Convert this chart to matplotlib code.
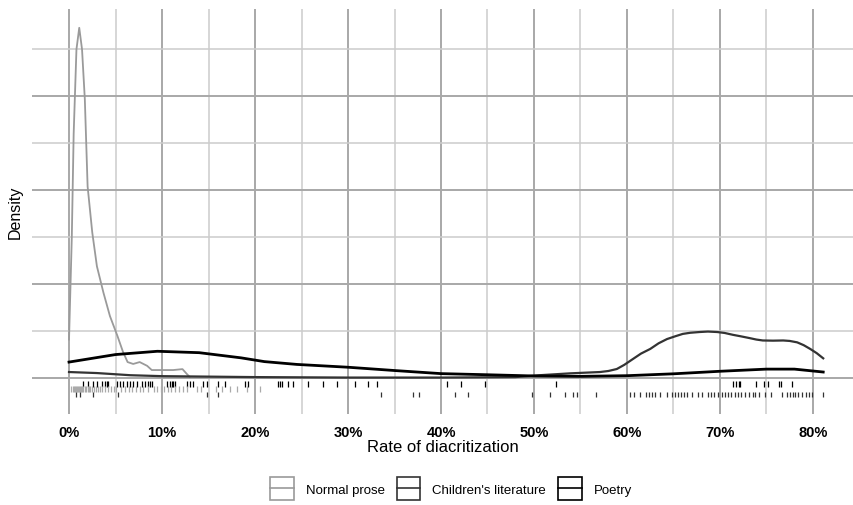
import numpy as np
import matplotlib
matplotlib.use("Agg")
import matplotlib.pyplot as plt
from matplotlib.legend_handler import HandlerBase
from matplotlib.patches import Rectangle
from matplotlib.lines import Line2D

plt.rcParams['font.family'] = ['Liberation Sans', 'DejaVu Sans']

# density curves (x = rate of diacritization, y = density)
prose_x = [0.0, 0.003, 0.005, 0.008, 0.011, 0.014, 0.017, 0.020, 0.025, 0.030,
           0.037, 0.044, 0.052, 0.058, 0.063, 0.069, 0.076, 0.084, 0.089, 0.098,
           0.112, 0.122, 0.127, 0.130]
prose_y = [4.1, 15.0, 26.0, 35.0, 37.3, 35.0, 29.7, 20.4, 15.5, 11.9,
           9.1, 6.6, 4.5, 2.8, 1.7, 1.5, 1.7, 1.3, 0.85, 0.85,
           0.85, 0.95, 0.4, 0.1]

child_x = [0.0, 0.03, 0.066, 0.10, 0.20, 0.30, 0.40, 0.48, 0.506, 0.539,
           0.571, 0.58, 0.589, 0.597, 0.606, 0.615, 0.625, 0.634, 0.643, 0.652,
           0.660, 0.668, 0.678, 0.687, 0.697, 0.705, 0.714, 0.722, 0.732, 0.739,
           0.746, 0.757, 0.768, 0.775, 0.783, 0.790, 0.797, 0.804, 0.811]
child_y = [0.64, 0.53, 0.30, 0.20, 0.10, 0.05, 0.05, 0.10, 0.30, 0.50,
           0.64, 0.75, 0.96, 1.4, 2.0, 2.6, 3.1, 3.7, 4.15, 4.45,
           4.7, 4.82, 4.9, 4.95, 4.9, 4.8, 4.6, 4.45, 4.25, 4.1,
           4.0, 3.98, 4.0, 3.95, 3.8, 3.5, 3.1, 2.65, 2.1]

poetry_x = [0.0, 0.05, 0.095, 0.14, 0.185, 0.21, 0.245, 0.30, 0.35, 0.40,
            0.45, 0.50, 0.55, 0.60, 0.65, 0.70, 0.75, 0.78, 0.811]
poetry_y = [1.7, 2.5, 2.85, 2.7, 2.15, 1.75, 1.45, 1.15, 0.8, 0.47,
            0.35, 0.22, 0.18, 0.25, 0.45, 0.72, 0.95, 0.95, 0.64]

# rug positions
poetry_rug = [0.0154, 0.0208, 0.026, 0.030, 0.035, 0.0387, 0.0405, 0.0423, 0.0513, 0.0548,
              0.0584, 0.062, 0.0656, 0.069, 0.0728, 0.078, 0.0817, 0.0853, 0.087, 0.089,
              0.105, 0.1086, 0.1104, 0.112, 0.114, 0.1265, 0.130, 0.1337, 0.1444, 0.148,
              0.1606, 0.1677, 0.189, 0.193, 0.225, 0.227, 0.229, 0.236, 0.241, 0.257,
              0.273, 0.288, 0.3075, 0.322, 0.331, 0.406, 0.422, 0.447, 0.524, 0.714,
              0.717, 0.720, 0.722, 0.739, 0.747, 0.752, 0.763, 0.766, 0.777]
prose_rug = [0.002, 0.004, 0.005, 0.006, 0.008, 0.009, 0.010, 0.011, 0.012, 0.013,
             0.014, 0.015, 0.017, 0.018, 0.020, 0.021, 0.023, 0.025, 0.027, 0.029,
             0.031, 0.033, 0.036, 0.039, 0.042, 0.045, 0.048, 0.051, 0.056, 0.060,
             0.064, 0.068, 0.072, 0.076, 0.080, 0.085, 0.091, 0.095, 0.099, 0.102,
             0.106, 0.110, 0.114, 0.118, 0.123, 0.127, 0.138, 0.142, 0.158, 0.164,
             0.173, 0.181, 0.191, 0.205]
child_rug = [0.008, 0.012, 0.026, 0.053, 0.148, 0.160, 0.336, 0.370, 0.376, 0.415,
             0.429, 0.4975, 0.517, 0.533, 0.542, 0.546, 0.567, 0.603, 0.608, 0.614,
             0.620, 0.624, 0.627, 0.630, 0.636, 0.643, 0.648, 0.652, 0.655, 0.658,
             0.661, 0.665, 0.670, 0.676, 0.681, 0.687, 0.690, 0.694, 0.698, 0.702,
             0.705, 0.709, 0.712, 0.716, 0.719, 0.723, 0.727, 0.731, 0.735, 0.738,
             0.742, 0.748, 0.755, 0.767, 0.772, 0.775, 0.778, 0.781, 0.784, 0.788,
             0.792, 0.796, 0.799, 0.811]

labels = ["Normal prose", "Children's literature", "Poetry"]
colors = ["#9a9a9a", "#333333", "#000000"]

x_ticks = [0.0, 0.1, 0.2, 0.3, 0.4, 0.5, 0.6, 0.7, 0.8]


class KeyHandler(HandlerBase):
    def create_artists(self, legend, orig_handle, xdescent, ydescent,
                       width, height, fontsize, trans):
        c = orig_handle.get_color()
        box = Rectangle((-xdescent, -ydescent - 4), width, height + 8, fill=False,
                        edgecolor=c, lw=1.2, transform=trans)
        mid = Line2D([-xdescent, -xdescent + width], [height / 2 - ydescent] * 2,
                     color=c, lw=1.2, transform=trans)
        return [box, mid]


fig = plt.figure(figsize=(8.54, 5.06), dpi=100)
ax = fig.add_axes([32 / 854, 1 - 415 / 506, 1 - 32 / 854, (415 - 10) / 506])

ax.set_xlim(-0.0398, 0.8441)
ax.set_ylim(-3.83, 39.3)

ax.set_xticks(x_ticks)
ax.set_xticklabels([f"{int(round(v * 100))}%" for v in x_ticks],
                   fontsize=10.5, fontweight='bold')
ax.set_xticks(np.arange(0.05, 0.81, 0.1), minor=True)
ax.set_yticks([0, 10, 20, 30])
ax.set_yticks([5, 15, 25, 35], minor=True)
ax.set_yticklabels([])
ax.tick_params(which='both', length=0, pad=8)

ax.grid(which='major', color='#a8a8a8', lw=1.4)
ax.grid(which='minor', color='#cccccc', lw=1.1)
ax.set_axisbelow(True)
for s in ax.spines.values():
    s.set_visible(False)

lines = []
lines.append(ax.plot(prose_x, prose_y, color=colors[0], lw=1.3)[0])
lines.append(ax.plot(child_x, child_y, color=colors[1], lw=1.6)[0])
lines.append(ax.plot(poetry_x, poetry_y, color=colors[2], lw=2.0)[0])

ax.vlines(poetry_rug, -0.35, -0.95, color=colors[2], lw=0.9)
ax.vlines(prose_rug, -0.85, -1.5, color='#aaaaaa', lw=0.9)
ax.vlines(child_rug, -1.5, -2.05, color=colors[1], lw=0.9)

ax.set_ylabel("Density", fontsize=11.5)
ax.yaxis.set_label_coords(-0.011, 0.5)
ax.set_xlabel("Rate of diacritization", fontsize=12)
ax.xaxis.set_label_coords(0.5, -0.062)

fig.legend(lines, labels, loc='center', bbox_to_anchor=(451 / 854, 1 - 490 / 506),
           ncol=3, frameon=False, fontsize=9.5, handlelength=1.8, handleheight=1.1,
           handletextpad=0.9, columnspacing=0.9,
           handler_map={Line2D: KeyHandler()})

fig.savefig("out.png", dpi=100)
